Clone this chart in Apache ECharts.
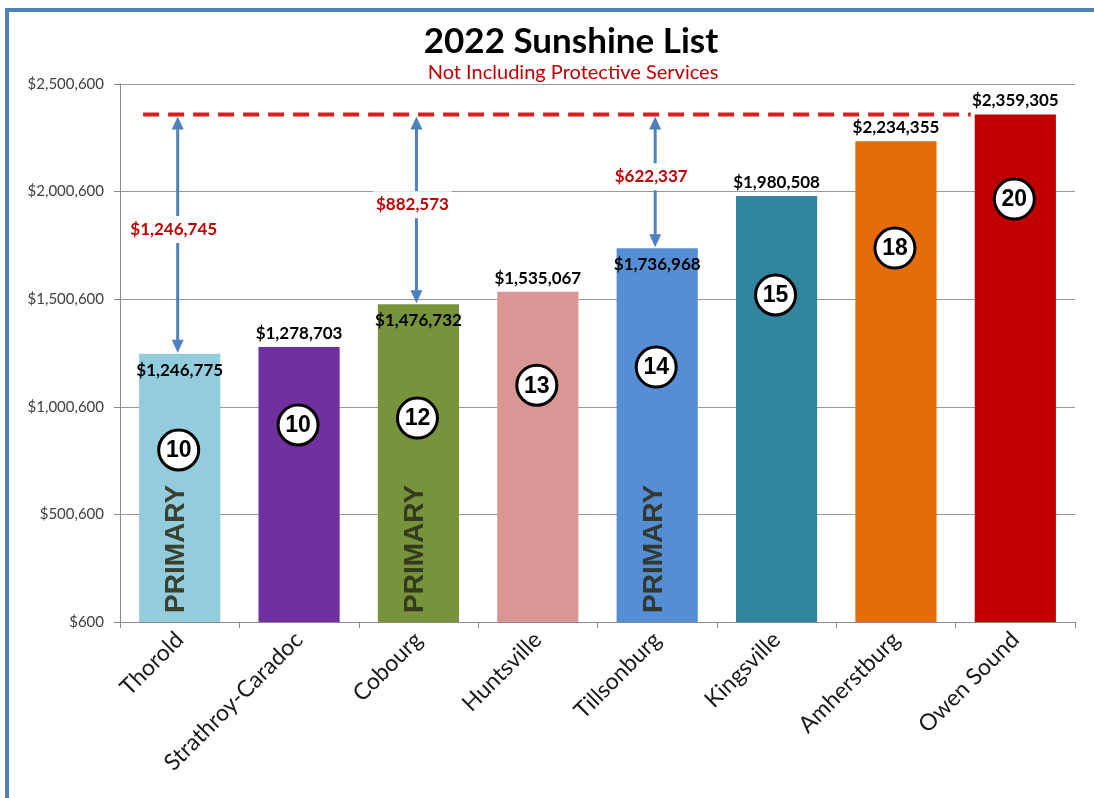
<!DOCTYPE html>
<html>
<head>
<meta charset="utf-8">
<title>2022 Sunshine List</title>
<script src="https://cdn.jsdelivr.net/npm/echarts@6/dist/echarts.min.js"></script>
<style>
  html, body { margin: 0; padding: 0; background: #fff; }
  #chart { width: 1094px; height: 798px; }
</style>
</head>
<body>
<div id="chart"></div>
<script>
// ---- data ----
const towns = ['Thorold', 'Strathroy-Caradoc', 'Cobourg', 'Huntsville', 'Tillsonburg', 'Kingsville', 'Amherstburg', 'Owen Sound'];
const payroll = [1246775, 1278703, 1476732, 1535067, 1736968, 1980508, 2234355, 2359305];
const employees = [10, 10, 12, 13, 14, 15, 18, 20];
const primaryTowns = ['Thorold', 'Cobourg', 'Tillsonburg'];
const gapTowns = ['Thorold', 'Cobourg', 'Tillsonburg'];
const gapAmounts = [1246745, 882573, 622337];
const yTicks = [600, 500600, 1000600, 1500600, 2000600, 2500600];

// ---- presentation ----
const barColors = ['#93cddd', '#7030a0', '#77933c', '#d99694', '#558ed5', '#31859c', '#e46c0a', '#c00000'];
// height (in axis units) at which each head-count badge sits
const badgeLevel = [800000, 916000, 948000, 1101000, 1185000, 1520000, 1738000, 1966000];
const BAR_RATIO = 0.68;
const ARROW_COLOR = '#4f81bd';
const LINE_RED = '#d42020';
const FONT = 'Lato, "Open Sans", sans-serif';

const money = v => '$' + v.toLocaleString('en-US');
const topPayroll = Math.max(...payroll);
const topIndex = payroll.indexOf(topPayroll);

const chart = echarts.init(document.getElementById('chart'), null, { renderer: 'canvas' });

const barData = payroll.map((v, i) => {
  const inside = gapTowns.includes(towns[i]);
  return {
    value: v,
    itemStyle: { color: barColors[i] },
    label: inside ? { position: 'insideTop', distance: 8 } : { position: 'top', distance: 5 }
  };
});

function arrowHead(x, y, dir) {
  // dir = -1 points up, +1 points down; (x, y) is the tip
  const w = 6, h = 13;
  return {
    type: 'polygon',
    shape: { points: [[x, y], [x - w, y - dir * h], [x + w, y - dir * h]] },
    style: { fill: ARROW_COLOR }
  };
}

function renderOverlay(params, api) {
  const i = params.dataIndex;
  const cx = api.coord([i, 0])[0];
  const band = api.size([1, 0])[0];
  const bw = band * BAR_RATIO;
  const baseY = api.coord([i, yTicks[0]])[1];
  const refY = api.coord([i, topPayroll])[1];
  const barTopY = api.coord([i, payroll[i]])[1];
  const children = [];

  if (i === 0) {
    const endX = api.coord([topIndex, 0])[0] - bw / 2 - 4;
    children.push({
      type: 'line',
      shape: { x1: cx - bw / 2 + 4, y1: refY, x2: endX, y2: refY },
      style: { stroke: LINE_RED, lineWidth: 4, lineDash: [16, 9] },
      z2: 1
    });
  }

  const g = gapTowns.indexOf(towns[i]);
  if (g >= 0) {
    const ax = cx - 2;
    const y1 = refY + 2, y2 = barTopY - 1;
    children.push({
      type: 'line',
      shape: { x1: ax, y1: y1 + 10, x2: ax, y2: y2 - 10 },
      style: { stroke: ARROW_COLOR, lineWidth: 3 },
      z2: 2
    });
    children.push(Object.assign(arrowHead(ax, y1, -1), { z2: 2 }));
    children.push(Object.assign(arrowHead(ax, y2, 1), { z2: 2 }));
    children.push({
      type: 'text',
      x: ax - 4,
      y: (y1 + y2) / 2 - 5,
      style: {
        text: money(gapAmounts[g]),
        align: 'center',
        verticalAlign: 'middle',
        fill: '#c00000',
        font: 'bold 17px ' + FONT,
        backgroundColor: '#fff',
        padding: [5, 3]
      },
      z2: 3
    });
  }

  if (primaryTowns.includes(towns[i])) {
    children.push({
      type: 'text',
      x: cx - 3,
      y: baseY - 9,
      rotation: Math.PI / 2,
      style: {
        text: 'PRIMARY',
        align: 'left',
        verticalAlign: 'middle',
        fill: 'rgba(45, 45, 25, 0.88)',
        font: 'bold 28px "Liberation Sans", Arial, sans-serif'
      },
      z2: 2
    });
  }

  const by = api.coord([i, badgeLevel[i]])[1];
  children.push({
    type: 'circle',
    shape: { cx: cx - 1, cy: by, r: 20 },
    style: { fill: '#fff', stroke: '#000', lineWidth: 3 },
    z2: 4
  });
  children.push({
    type: 'text',
    x: cx - 1,
    y: by + 1,
    style: {
      text: String(employees[i]),
      align: 'center',
      verticalAlign: 'middle',
      fill: '#000',
      font: 'bold 23px "Liberation Sans", Arial, sans-serif'
    },
    z2: 5
  });

  return { type: 'group', children };
}

chart.setOption({
  backgroundColor: '#fff',
  animation: false,
  title: [
    {
      text: '2022 Sunshine List',
      left: 566, top: 19, textAlign: 'center',
      textStyle: { fontFamily: FONT, fontWeight: 'bold', fontSize: 35, color: '#000' }
    },
    {
      text: 'Not Including Protective Services',
      left: 568, top: 58, textAlign: 'center',
      textStyle: { fontFamily: FONT, fontWeight: 'normal', fontSize: 20, color: '#c00000' }
    }
  ],
  graphic: [
    { type: 'rect', shape: { x: 5, y: 8, width: 1089, height: 4 }, style: { fill: '#4f81bd' }, z: 10 },
    { type: 'rect', shape: { x: 5, y: 8, width: 4, height: 790 }, style: { fill: '#4f81bd' }, z: 10 }
  ],
  grid: { left: 120, right: 19, top: 84, bottom: 176, containLabel: false },
  xAxis: {
    type: 'category',
    data: towns,
    axisLine: { lineStyle: { color: '#8a8a8a', width: 1 } },
    axisTick: { show: true, length: 6, interval: 0, lineStyle: { color: '#8a8a8a' } },
    axisLabel: {
      interval: 0,
      rotate: 45,
      margin: 14,
      color: '#1a1a1a',
      fontSize: 23,
      fontFamily: FONT
    }
  },
  yAxis: {
    type: 'value',
    min: yTicks[0],
    max: yTicks[yTicks.length - 1],
    interval: yTicks[1] - yTicks[0],
    axisLine: { show: true, lineStyle: { color: '#8a8a8a', width: 1 } },
    axisTick: { show: true, length: 6, lineStyle: { color: '#8a8a8a' } },
    splitLine: { lineStyle: { color: '#999', width: 1 } },
    axisLabel: {
      margin: 16,
      color: '#404040',
      fontSize: 15,
      fontFamily: FONT,
      formatter: v => money(v)
    }
  },
  series: [
    {
      type: 'bar',
      data: barData,
      barWidth: (BAR_RATIO * 100) + '%',
      label: {
        show: true,
        color: '#000',
        fontWeight: 'bold',
        fontSize: 17,
        fontFamily: FONT,
        formatter: p => money(p.value)
      },
      z: 2
    },
    {
      type: 'custom',
      data: payroll.map((v, i) => [i, v]),
      renderItem: renderOverlay,
      z: 5,
      silent: true
    }
  ]
});
</script>
</body>
</html>
